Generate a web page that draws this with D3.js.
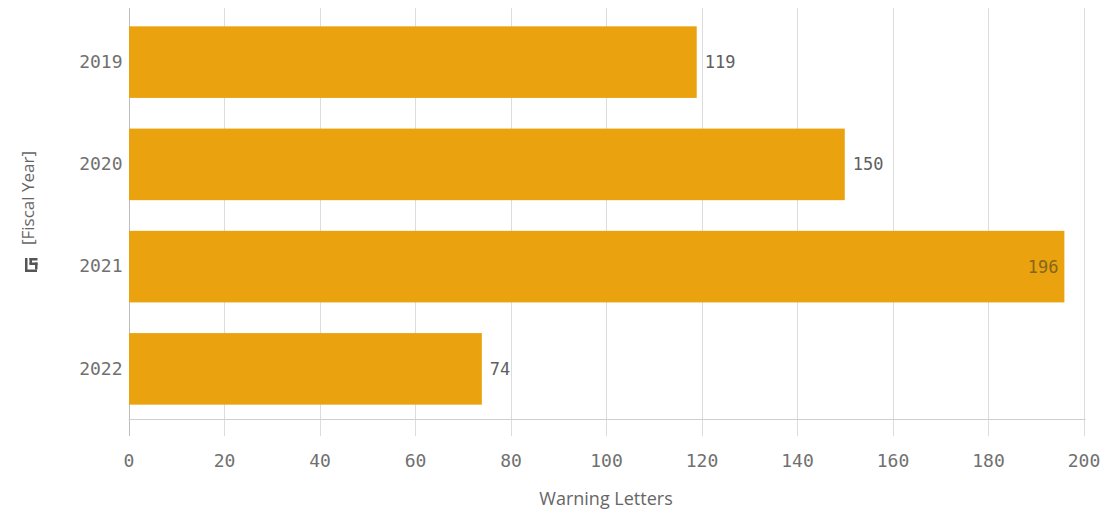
<!DOCTYPE html>
<html>
<head>
<meta charset="utf-8">
<script src="https://cdn.jsdelivr.net/npm/d3@7"></script>
<style>
  html, body { margin: 0; padding: 0; background: #ffffff; }
  svg { display: block; }
</style>
</head>
<body>
<svg id="chart" width="1105" height="516"></svg>
<script>
const categories = ["2019", "2020", "2021", "2022"];
const warningLetters = [119, 150, 196, 74];
const xTickValues = [0, 20, 40, 60, 80, 100, 120, 140, 160, 180, 200];
const xAxisTitle = "Warning Letters";
const yAxisTitle = "[Fiscal Year]";

const data = categories.map((c, i) => ({ year: c, value: warningLetters[i] }));

const svg = d3.select("#chart");
const margin = { left: 128.5, right: 21.5, top: 11, bottom: 96 };
const W = 1105, H = 516;
const plotBottom = H - margin.bottom; // 420

const x = d3.scaleLinear().domain([0, 200]).range([margin.left, W - margin.right]);
const y = d3.scaleBand().domain(categories).range([margin.top, plotBottom])
  .paddingInner(0.3).paddingOuter(0.15);

const monoFont = "'DejaVu Sans Mono', 'Liberation Mono', monospace";
const sansFont = "'Open Sans', 'Noto Sans', sans-serif";
const textColor = "#707070";

// vertical gridlines
svg.append("g").selectAll("line").data(xTickValues).join("line")
  .attr("x1", d => Math.round(x(d)) + 0.5).attr("x2", d => Math.round(x(d)) + 0.5)
  .attr("y1", 8).attr("y2", 436)
  .attr("stroke", d => d === 0 ? "#bdbdbd" : "#dcdcdc").attr("stroke-width", 1);

// horizontal axis line
svg.append("line")
  .attr("x1", x(0)).attr("x2", x(200) + 2)
  .attr("y1", plotBottom - 0.5).attr("y2", plotBottom - 0.5)
  .attr("stroke", "#cfcfcf").attr("stroke-width", 1);

// bars
svg.append("g").selectAll("rect").data(data).join("rect")
  .attr("x", x(0) + 0.5)
  .attr("y", d => y(d.year))
  .attr("width", d => x(d.value) - x(0) - 0.5)
  .attr("height", y.bandwidth())
  .attr("fill", "#eaa30e");

// value labels
svg.append("g").selectAll("text").data(data).join("text")
  .attr("x", d => d.value > 180 ? x(d.value) - 6 : x(d.value) + 8)
  .attr("y", d => y(d.year) + y.bandwidth() / 2)
  .attr("dy", "0.35em")
  .attr("text-anchor", d => d.value > 180 ? "end" : "start")
  .attr("font-family", monoFont)
  .attr("font-size", 17)
  .attr("fill", d => d.value > 180 ? "#85661c" : "#606060")
  .text(d => d.value);

// y axis labels
const yAxis = d3.axisLeft(y).tickSize(0).tickPadding(6);
const gy = svg.append("g").attr("transform", `translate(${x(0)},0)`).call(yAxis);
gy.select(".domain").remove();
gy.selectAll("text").attr("font-family", monoFont).attr("font-size", 18).attr("fill", textColor);

// x axis labels
const xAxis = d3.axisBottom(x).tickValues(xTickValues).tickSize(0).tickPadding(0).tickFormat(d3.format("d"));
const gx = svg.append("g").attr("transform", `translate(0,${plotBottom})`).call(xAxis);
gx.select(".domain").remove();
gx.selectAll("text").attr("font-family", monoFont).attr("font-size", 18).attr("fill", textColor)
  .attr("y", 41).attr("dy", "0.35em");

// x axis title
svg.append("text")
  .attr("x", (x(0) + x(200)) / 2).attr("y", 505)
  .attr("text-anchor", "middle")
  .attr("font-family", sansFont).attr("font-size", 18).attr("fill", "#666666")
  .text(xAxisTitle);

// y axis title
svg.append("text")
  .attr("transform", "translate(34,198) rotate(-90)")
  .attr("text-anchor", "middle")
  .attr("font-family", sansFont).attr("font-size", 17).attr("fill", "#666666")
  .text(yAxisTitle);

// drill-down icon
const icon = svg.append("g").attr("transform", "translate(25,258)").attr("fill", "#555555");
icon.append("rect").attr("x", 0).attr("y", 0).attr("width", 2.5).attr("height", 14);
icon.append("rect").attr("x", 0).attr("y", 11.5).attr("width", 12).attr("height", 2.5);
icon.append("rect").attr("x", 4.5).attr("y", 0).attr("width", 8).attr("height", 2.5);
icon.append("rect").attr("x", 4.5).attr("y", 0).attr("width", 2.5).attr("height", 6.5);
icon.append("rect").attr("x", 4.5).attr("y", 4.5).attr("width", 8).attr("height", 2.5);
icon.append("rect").attr("x", 10).attr("y", 4.5).attr("width", 2.5).attr("height", 7);
</script>
</body>
</html>
